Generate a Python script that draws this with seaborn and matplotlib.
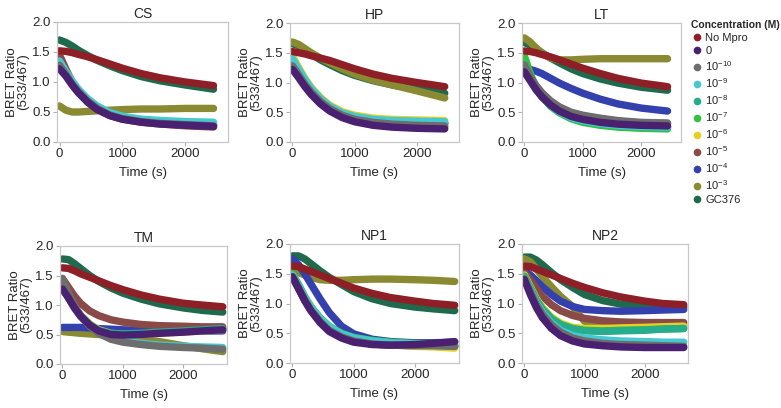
import numpy as np
import pandas as pd
import matplotlib
matplotlib.use("Agg")
import matplotlib.pyplot as plt
import seaborn as sns
from matplotlib.lines import Line2D


TIME_TOP = [0, 100, 200, 300, 450, 600, 800, 1000, 1300, 1600, 2000, 2450]
TIME_BOTTOM = [0, 100, 200, 300, 450, 600, 800, 1000, 1300, 1600, 2000, 2300, 2650]

CONCENTRATIONS = ["No Mpro", "0", "1e-10", "1e-9", "1e-8", "1e-7",
                  "1e-6", "1e-5", "1e-4", "1e-3", "GC376"]
LEGEND_LABELS = ["No Mpro", "0", "10$^{-10}$", "10$^{-9}$", "10$^{-8}$", "10$^{-7}$",
                 "10$^{-6}$", "10$^{-5}$", "10$^{-4}$", "10$^{-3}$", "GC376"]
COLORS = ["#8e1f26", "#4a2070", "#6d6d6d", "#45c8d2", "#26ad8c", "#33c043",
          "#e6cf22", "#8a4a48", "#3340ad", "#8a8a32", "#1f6a4c"]

PANELS = ["CS", "HP", "LT", "TM", "NP1", "NP2"]

CS = {
    "No Mpro": [1.52, 1.51, 1.49, 1.46, 1.42, 1.37, 1.30, 1.23, 1.14, 1.07, 1.00, 0.94],
    "0":       [1.22, 1.10, 0.95, 0.82, 0.66, 0.54, 0.44, 0.38, 0.33, 0.30, 0.28, 0.26],
    "1e-10":   [1.28, 1.13, 0.97, 0.84, 0.68, 0.56, 0.45, 0.39, 0.34, 0.31, 0.29, 0.27],
    "1e-9":    [1.35, 1.18, 1.02, 0.88, 0.72, 0.60, 0.49, 0.43, 0.38, 0.36, 0.34, 0.33],
    "1e-8":    [1.30, 1.15, 0.99, 0.86, 0.70, 0.58, 0.47, 0.41, 0.36, 0.33, 0.31, 0.30],
    "1e-7":    [1.25, 1.12, 0.97, 0.84, 0.68, 0.56, 0.46, 0.40, 0.35, 0.32, 0.30, 0.29],
    "1e-6":    [1.27, 1.13, 0.98, 0.85, 0.69, 0.57, 0.46, 0.40, 0.35, 0.32, 0.30, 0.28],
    "1e-5":    [1.45, 1.22, 1.00, 0.84, 0.67, 0.55, 0.44, 0.38, 0.33, 0.30, 0.27, 0.25],
    "1e-4":    [1.30, 1.14, 0.98, 0.84, 0.68, 0.56, 0.45, 0.39, 0.34, 0.31, 0.28, 0.27],
    "1e-3":    [0.60, 0.53, 0.50, 0.50, 0.51, 0.52, 0.53, 0.54, 0.55, 0.55, 0.56, 0.56],
    "GC376":   [1.70, 1.66, 1.60, 1.53, 1.44, 1.36, 1.27, 1.19, 1.09, 1.02, 0.95, 0.88],
}

HP = {
    "No Mpro": [1.52, 1.50, 1.48, 1.45, 1.41, 1.37, 1.30, 1.23, 1.14, 1.07, 1.00, 0.93],
    "0":       [1.22, 1.08, 0.93, 0.80, 0.64, 0.52, 0.41, 0.34, 0.28, 0.25, 0.23, 0.22],
    "1e-10":   [1.28, 1.13, 0.97, 0.84, 0.68, 0.56, 0.45, 0.38, 0.33, 0.30, 0.28, 0.27],
    "1e-9":    [1.40, 1.22, 1.05, 0.90, 0.73, 0.60, 0.49, 0.43, 0.38, 0.36, 0.35, 0.34],
    "1e-8":    [1.35, 1.19, 1.02, 0.88, 0.71, 0.58, 0.47, 0.41, 0.36, 0.34, 0.32, 0.31],
    "1e-7":    [1.38, 1.21, 1.04, 0.89, 0.72, 0.59, 0.48, 0.42, 0.37, 0.35, 0.33, 0.32],
    "1e-6":    [1.45, 1.25, 1.07, 0.92, 0.75, 0.62, 0.51, 0.45, 0.40, 0.38, 0.37, 0.36],
    "1e-5":    [1.30, 1.14, 0.98, 0.84, 0.68, 0.55, 0.44, 0.37, 0.31, 0.28, 0.26, 0.25],
    "1e-4":    [1.42, 1.23, 1.05, 0.90, 0.73, 0.60, 0.49, 0.42, 0.37, 0.34, 0.32, 0.31],
    "1e-3":    [1.68, 1.64, 1.57, 1.50, 1.41, 1.33, 1.23, 1.14, 1.04, 0.96, 0.86, 0.74],
    "GC376":   [1.65, 1.62, 1.55, 1.48, 1.38, 1.30, 1.20, 1.12, 1.03, 0.96, 0.89, 0.82],
}

LT = {
    "No Mpro": [1.53, 1.52, 1.50, 1.47, 1.43, 1.38, 1.31, 1.24, 1.15, 1.07, 0.99, 0.93],
    "0":       [1.18, 1.03, 0.88, 0.76, 0.62, 0.52, 0.43, 0.38, 0.33, 0.30, 0.28, 0.27],
    "1e-10":   [1.30, 1.10, 0.95, 0.83, 0.69, 0.59, 0.50, 0.45, 0.40, 0.36, 0.33, 0.32],
    "1e-9":    [1.30, 1.08, 0.90, 0.77, 0.62, 0.51, 0.41, 0.36, 0.31, 0.28, 0.26, 0.25],
    "1e-8":    [1.28, 1.07, 0.89, 0.76, 0.61, 0.50, 0.41, 0.36, 0.31, 0.28, 0.26, 0.25],
    "1e-7":    [1.45, 1.15, 0.92, 0.77, 0.60, 0.49, 0.39, 0.33, 0.28, 0.25, 0.23, 0.22],
    "1e-6":    [1.29, 1.08, 0.90, 0.77, 0.62, 0.51, 0.41, 0.36, 0.31, 0.28, 0.26, 0.25],
    "1e-5":    [1.28, 1.09, 0.94, 0.82, 0.68, 0.58, 0.49, 0.44, 0.39, 0.35, 0.32, 0.31],
    "1e-4":    [1.25, 1.22, 1.19, 1.15, 1.07, 0.99, 0.90, 0.82, 0.72, 0.64, 0.57, 0.52],
    "1e-3":    [1.75, 1.68, 1.58, 1.49, 1.41, 1.38, 1.38, 1.39, 1.40, 1.40, 1.40, 1.40],
    "GC376":   [1.67, 1.63, 1.57, 1.50, 1.41, 1.33, 1.23, 1.15, 1.06, 0.99, 0.92, 0.87],
}

TM = {
    "No Mpro": [1.63, 1.62, 1.58, 1.53, 1.47, 1.41, 1.33, 1.26, 1.17, 1.10, 1.03, 1.00, 0.97],
    "0":       [1.27, 1.12, 0.95, 0.81, 0.66, 0.56, 0.50, 0.49, 0.50, 0.52, 0.54, 0.56, 0.58],
    "1e-10":   [1.45, 1.20, 0.98, 0.82, 0.64, 0.52, 0.42, 0.37, 0.33, 0.30, 0.28, 0.27, 0.25],
    "1e-9":    [1.38, 1.17, 0.97, 0.82, 0.65, 0.54, 0.45, 0.39, 0.35, 0.32, 0.30, 0.29, 0.28],
    "1e-8":    [1.33, 1.13, 0.96, 0.82, 0.67, 0.57, 0.52, 0.51, 0.52, 0.54, 0.56, 0.58, 0.60],
    "1e-7":    [1.30, 1.12, 0.95, 0.81, 0.66, 0.56, 0.51, 0.50, 0.51, 0.53, 0.55, 0.57, 0.59],
    "1e-6":    [1.35, 1.15, 0.97, 0.83, 0.68, 0.58, 0.52, 0.50, 0.50, 0.52, 0.54, 0.56, 0.58],
    "1e-5":    [1.45, 1.30, 1.15, 1.03, 0.90, 0.82, 0.75, 0.71, 0.67, 0.65, 0.64, 0.63, 0.63],
    "1e-4":    [0.62, 0.62, 0.62, 0.62, 0.61, 0.60, 0.59, 0.58, 0.57, 0.56, 0.56, 0.56, 0.56],
    "1e-3":    [0.55, 0.54, 0.53, 0.52, 0.51, 0.50, 0.48, 0.46, 0.42, 0.38, 0.31, 0.26, 0.21],
    "GC376":   [1.78, 1.77, 1.70, 1.62, 1.50, 1.40, 1.29, 1.20, 1.10, 1.02, 0.95, 0.91, 0.88],
}

NP1 = {
    "No Mpro": [1.63, 1.62, 1.58, 1.54, 1.48, 1.42, 1.34, 1.26, 1.17, 1.10, 1.04, 1.00, 0.97],
    "0":       [1.45, 1.25, 1.05, 0.88, 0.68, 0.53, 0.42, 0.35, 0.31, 0.30, 0.31, 0.33, 0.36],
    "1e-10":   [1.45, 1.26, 1.06, 0.89, 0.70, 0.55, 0.44, 0.37, 0.32, 0.30, 0.29, 0.29, 0.28],
    "1e-9":    [1.48, 1.30, 1.10, 0.94, 0.75, 0.61, 0.49, 0.42, 0.37, 0.34, 0.32, 0.31, 0.29],
    "1e-8":    [1.47, 1.29, 1.09, 0.93, 0.74, 0.60, 0.48, 0.41, 0.36, 0.33, 0.31, 0.30, 0.28],
    "1e-7":    [1.50, 1.32, 1.12, 0.95, 0.76, 0.62, 0.50, 0.43, 0.38, 0.35, 0.33, 0.32, 0.30],
    "1e-6":    [1.46, 1.28, 1.08, 0.92, 0.73, 0.59, 0.47, 0.40, 0.35, 0.31, 0.28, 0.27, 0.25],
    "1e-5":    [1.44, 1.25, 1.05, 0.89, 0.70, 0.55, 0.44, 0.37, 0.32, 0.30, 0.29, 0.29, 0.28],
    "1e-4":    [1.75, 1.65, 1.50, 1.33, 1.08, 0.85, 0.62, 0.49, 0.40, 0.36, 0.34, 0.34, 0.35],
    "1e-3":    [1.55, 1.52, 1.48, 1.44, 1.40, 1.39, 1.39, 1.40, 1.41, 1.41, 1.40, 1.39, 1.37],
    "GC376":   [1.80, 1.80, 1.75, 1.67, 1.55, 1.44, 1.32, 1.20, 1.08, 1.00, 0.94, 0.91, 0.88],
}

NP2 = {
    "No Mpro": [1.63, 1.62, 1.58, 1.54, 1.48, 1.42, 1.34, 1.27, 1.18, 1.11, 1.04, 1.00, 0.98],
    "0":       [1.40, 1.15, 0.93, 0.76, 0.58, 0.46, 0.37, 0.32, 0.29, 0.27, 0.26, 0.26, 0.26],
    "1e-10":   [1.42, 1.20, 0.98, 0.82, 0.64, 0.52, 0.42, 0.37, 0.33, 0.31, 0.30, 0.29, 0.28],
    "1e-9":    [1.43, 1.22, 1.01, 0.85, 0.67, 0.55, 0.46, 0.42, 0.39, 0.37, 0.36, 0.35, 0.35],
    "1e-8":    [1.45, 1.25, 1.05, 0.90, 0.74, 0.64, 0.57, 0.54, 0.53, 0.54, 0.55, 0.57, 0.58],
    "1e-7":    [1.46, 1.26, 1.06, 0.91, 0.75, 0.65, 0.58, 0.55, 0.54, 0.55, 0.56, 0.57, 0.58],
    "1e-6":    [1.48, 1.28, 1.08, 0.93, 0.77, 0.67, 0.60, 0.58, 0.58, 0.59, 0.60, 0.61, 0.62],
    "1e-5":    [1.52, 1.40, 1.25, 1.12, 0.98, 0.88, 0.80, 0.75, 0.71, 0.69, 0.68, 0.68, 0.68],
    "1e-4":    [1.55, 1.48, 1.38, 1.28, 1.15, 1.04, 0.95, 0.90, 0.88, 0.87, 0.88, 0.89, 0.90],
    "1e-3":    [1.75, 1.70, 1.58, 1.45, 1.28, 1.12, 0.95, 0.70, 0.63, 0.62, 0.62, 0.62, 0.63],
    "GC376":   [1.78, 1.78, 1.73, 1.65, 1.52, 1.40, 1.27, 1.15, 1.05, 0.99, 0.96, 0.95, 0.94],
}

PANEL_DATA = {"CS": CS, "HP": HP, "LT": LT, "TM": TM, "NP1": NP1, "NP2": NP2}
PANEL_TIMES = {"CS": TIME_TOP, "HP": TIME_TOP, "LT": TIME_TOP,
               "TM": TIME_BOTTOM, "NP1": TIME_BOTTOM, "NP2": TIME_BOTTOM}

# axes boxes in pixels: left, right, top, bottom (figure is 781 x 408)
BOXES = {
    "CS": (57, 228, 22, 142),
    "HP": (290, 459, 23, 142),
    "LT": (522, 681, 23, 142),
    "TM": (60, 227, 246, 364),
    "NP1": (290, 459, 244, 363),
    "NP2": (522, 688, 244, 363),
}

# later entries are drawn on top
DRAW_ORDER = ["GC376", "1e-3", "1e-4", "1e-5", "1e-6", "1e-7",
              "1e-8", "1e-9", "1e-10", "No Mpro", "0"]


def build_frame():
    rows = []
    for panel in PANELS:
        times = PANEL_TIMES[panel]
        for conc, values in PANEL_DATA[panel].items():
            for t, v in zip(times, values):
                rows.append({"Panel": panel, "Time": t, "Concentration": conc, "Ratio": v})
    return pd.DataFrame(rows)


def main():
    sns.set_style("white")
    plt.rcParams["font.family"] = ["Liberation Sans", "DejaVu Sans"]
    plt.rcParams["mathtext.default"] = "regular"

    df = build_frame()
    palette = dict(zip(CONCENTRATIONS, COLORS))

    W, H = 781, 408
    fig = plt.figure(figsize=(W / 100, H / 100), dpi=100)

    for panel in PANELS:
        left, right, top, bottom = BOXES[panel]
        ax = fig.add_axes([left / W, 1 - bottom / H, (right - left) / W, (bottom - top) / H])
        sub = df[df["Panel"] == panel]
        sns.lineplot(data=sub, x="Time", y="Ratio", hue="Concentration",
                     hue_order=DRAW_ORDER, palette=palette, legend=False,
                     linewidth=5.3, solid_capstyle="round", ax=ax)

        ax.set_xlim(-40, 2680 if panel in ("CS", "HP", "LT") else 2720)
        ax.set_ylim(0, 2.0)
        ax.set_xticks([0, 1000, 2000])
        ax.set_yticks([0.0, 0.5, 1.0, 1.5, 2.0])
        ax.set_yticklabels([f"{v:.1f}" for v in [0.0, 0.5, 1.0, 1.5, 2.0]])
        ax.set_title(panel, fontsize=10, pad=3)
        ax.set_xlabel("Time (s)", fontsize=9.5, labelpad=5)
        ax.set_ylabel("BRET Ratio\n(533/467)", fontsize=9.5, labelpad=2, linespacing=0.95)
        ax.tick_params(axis="both", labelsize=9.5, length=3, width=0.8,
                       color="#b0b0b0", pad=1.5, left=True, bottom=True)
        for spine in ax.spines.values():
            spine.set_color("#c8c8c8")
            spine.set_linewidth(0.9)

    handles = [Line2D([0], [0], marker="o", linestyle="", markersize=4.5,
                      markerfacecolor=c, markeredgecolor=c) for c in COLORS]
    leg = fig.legend(handles, LEGEND_LABELS, loc="upper left",
                     bbox_to_anchor=(691 / W, 1 - 20 / H), frameon=False,
                     fontsize=8, title="Concentration (M)", title_fontsize=7.5,
                     handletextpad=0.3, labelspacing=0.28, handlelength=1.0,
                     borderaxespad=0, borderpad=0)
    leg.get_title().set_fontweight("bold")
    leg._legend_box.align = "left"

    fig.savefig("out.png", dpi=100)


if __name__ == "__main__":
    main()
